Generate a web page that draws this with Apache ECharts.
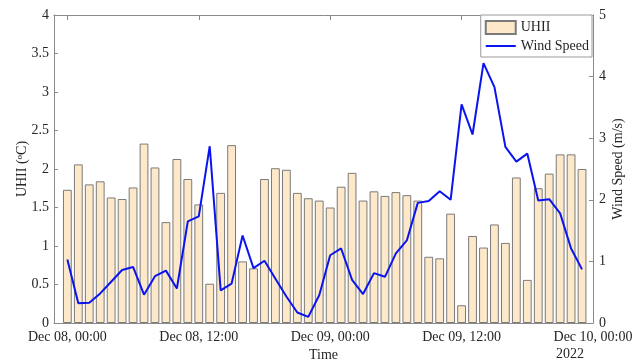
<!DOCTYPE html>
<html>
<head>
<meta charset="utf-8">
<script src="https://cdn.jsdelivr.net/npm/echarts@6/dist/echarts.min.js"></script>
<style>html,body{margin:0;padding:0;background:#fff}#c{width:642px;height:362px}</style>
</head>
<body>
<div id="c"></div>
<script>
// hours since Dec 08, 2022 00:00
const hours = [0,1,2,3,4,5,6,7,8,9,10,11,12,13,14,15,16,17,18,19,20,21,22,23,
  24,25,26,27,28,29,30,31,32,33,34,35,36,37,38,39,40,41,42,43,44,45,46,47];
const uhii = [1.73,2.06,1.80,1.84,1.63,1.61,1.76,2.33,2.02,1.31,2.13,1.87,1.54,0.51,1.69,
  2.31,0.80,0.71,1.87,2.01,1.99,1.69,1.62,1.59,1.50,1.77,1.95,1.59,1.71,1.65,1.70,1.66,
  1.59,0.86,0.84,1.42,0.23,1.13,0.98,1.28,1.04,1.89,0.56,1.75,1.94,2.19,2.19,2.00];
const windSpeed = [1.03,0.32,0.33,0.48,0.67,0.86,0.91,0.46,0.76,0.85,0.56,1.65,1.73,2.87,
  0.53,0.64,1.42,0.89,1.01,0.72,0.43,0.17,0.10,0.45,1.10,1.21,0.70,0.47,0.81,0.75,1.13,1.34,
  1.95,1.98,2.14,2.00,3.55,3.06,4.22,3.83,2.86,2.62,2.75,1.99,2.01,1.78,1.21,0.87];
const tickHours = [0,12,24,36,48];
const tickLabels = ['Dec 08, 00:00','Dec 08, 12:00','Dec 09, 00:00','Dec 09, 12:00','Dec 10, 00:00'];
const yearLabel = '2022';

const font = 'Liberation Serif';
const txt = '#262626';
const axisCol = '#8a8a8a';

const chart = echarts.init(document.getElementById('c'), null, {renderer:'canvas'});
const xBase = {
  type:'value', min:-1.22, max:48,
  splitLine:{show:false},
  axisLine:{show:true, onZero:false, lineStyle:{color:axisCol, width:1}},
  axisTick:{show:true, inside:true, length:5, customValues:tickHours, lineStyle:{color:axisCol}},
};
chart.setOption({
  animation:false,
  textStyle:{fontFamily:font},
  grid:{left:54, right:49, top:15, bottom:39, containLabel:false, outerBoundsMode:'none'},
  legend:{
    orient:'vertical', right:50, top:15, itemWidth:30, itemHeight:13, itemGap:4,
    padding:[5,3,4,4], borderColor:'#9a9a9a', borderWidth:1, backgroundColor:'#fff',
    textStyle:{fontFamily:font, fontSize:14, color:txt},
    data:[{name:'UHII', icon:'rect'},
          {name:'Wind Speed', icon:'path://M0,0 L0.01,0 M0,5.6 L30,5.6 L30,7.4 L0,7.4 Z M0,13 L0.01,13'}]
  },
  xAxis:[
    Object.assign({}, xBase, {
      position:'bottom',
      name:'Time', nameLocation:'middle', nameGap:25, nameMoveOverlap:false,
      nameTextStyle:{fontFamily:font, fontSize:14, color:txt},
      axisLabel:{show:true, customValues:tickHours, margin:7, fontFamily:font, fontSize:14, color:txt,
        formatter:v => tickLabels[tickHours.indexOf(Math.round(v))] || ''}
    }),
    Object.assign({}, xBase, {position:'top', axisLabel:{show:false}})
  ],
  yAxis:[
    {type:'value', min:0, max:4, interval:0.5, position:'left',
     splitLine:{show:false},
     axisLine:{show:true, onZero:false, lineStyle:{color:axisCol}},
     axisTick:{show:true, inside:true, length:4, lineStyle:{color:axisCol}},
     axisLabel:{margin:5, fontFamily:font, fontSize:14, color:txt},
     name:'{t|UHII (}{s|o}{t|C)}', nameLocation:'middle', nameGap:24, nameRotate:90, nameMoveOverlap:false,
     nameTextStyle:{rich:{t:{fontFamily:font, fontSize:14, color:txt},
                          s:{fontFamily:font, fontSize:9, color:txt, padding:[0,0,6,0]}}}
    },
    {type:'value', min:0, max:5, interval:1, position:'right',
     splitLine:{show:false},
     axisLine:{show:true, onZero:false, lineStyle:{color:axisCol}},
     axisTick:{show:true, inside:true, length:4, lineStyle:{color:axisCol}},
     axisLabel:{margin:6, fontFamily:font, fontSize:14, color:txt},
     name:'Wind Speed (m/s)', nameLocation:'middle', nameGap:18, nameRotate:90, nameMoveOverlap:false,
     nameTextStyle:{fontFamily:font, fontSize:14, color:txt}
    }
  ],
  series:[
    {name:'UHII', type:'bar', xAxisIndex:0, yAxisIndex:0, barWidth:8.8,
     data:hours.map((h,i)=>[h, uhii[i]]),
     itemStyle:{color:'#fde9c9', borderColor:'#7a7a7a', borderWidth:1}},
    {name:'Wind Speed', type:'line', xAxisIndex:0, yAxisIndex:1, symbol:'none',
     data:hours.map((h,i)=>[h, windSpeed[i]]),
     lineStyle:{color:'#0a14f0', width:2}, itemStyle:{color:'#0a14f0'}}
  ],
  graphic:[
    {type:'text', left:556, top:347, style:{text:yearLabel, font:'14px "Liberation Serif"', fill:txt}}
  ]
});
</script>
</body>
</html>
